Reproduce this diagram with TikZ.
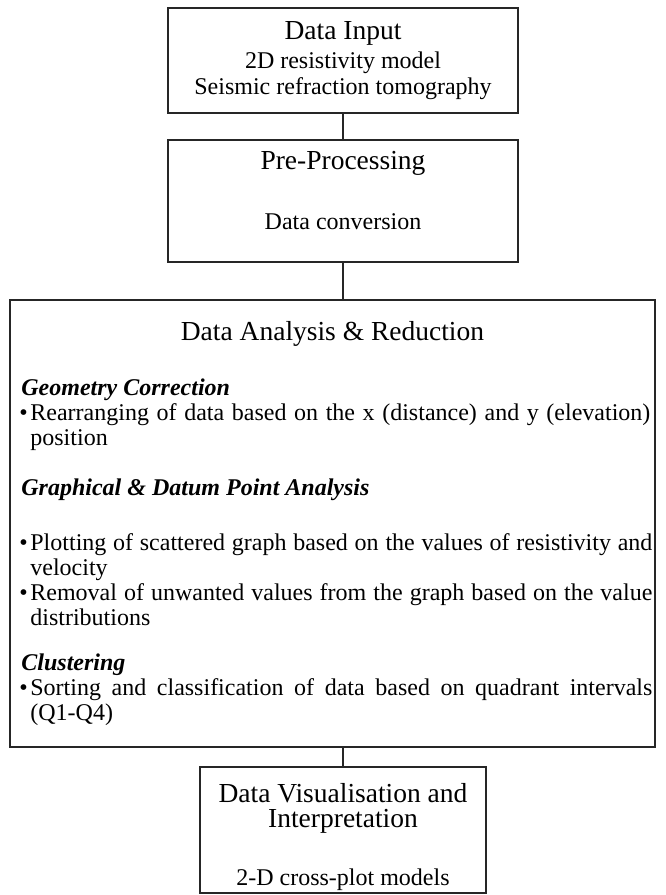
\documentclass[tikz,border=0pt]{standalone}
\usepackage{fontspec}
\setmainfont{Liberation Serif}
\newcommand{\titlefont}{\fontsize{13.75}{16}\selectfont}
\newcommand{\bodyfont}{\fontsize{12}{14}\selectfont}
\begin{document}
\begin{tikzpicture}[x=0.5pt,y=-0.5pt,
  box/.style={draw=black!85, line width=0.6pt, inner sep=0pt},
  title/.style={inner sep=0pt, font=\titlefont},
  body/.style={inner sep=0pt, font=\bodyfont},
  head/.style={anchor=west, inner sep=0pt, text height=8.5pt, text depth=3pt, font=\bodyfont\bfseries\itshape},
  item/.style={anchor=west, inner sep=0pt, text height=8.5pt, text depth=3pt, font=\bodyfont},
  link/.style={draw=black!85, line width=0.6pt}]
\useasboundingbox (0,0) rectangle (665,895);
% boxes
\node[box, minimum width=175pt, minimum height=52.5pt] (Input) at (343,60.5) {};
\node[box, minimum width=175pt, minimum height=61pt] (PreProc) at (343,201) {};
\node[box, minimum width=322.5pt, minimum height=223.5pt] (Analysis) at (332.5,523.5) {};
\node[box, minimum width=143pt, minimum height=63pt] (Visual) at (343,830) {};
% connectors
\draw[link] (Input) -- (PreProc);
\draw[link] (PreProc.south) -- (PreProc.south |- Analysis.north);
\draw[link] (Visual.north |- Analysis.south) -- (Visual);
% data input
\node[title] (InputT) at (343,33) {Data Input};
\node[body] (InputA) at (343,63) {2D resistivity model};
\node[body] (InputB) at (343,89) {Seismic refraction tomography};
% pre-processing
\node[title] (PreProcT) at (343,163) {Pre-Processing};
\node[body] (PreProcA) at (343,222) {Data conversion};
% analysis
\node[title] (AnalysisT) at (332.5,334) {Data Analysis \& Reduction};
\node[head] (GeoH) at (21,390) {Geometry Correction};
\node[item] (GeoB) at (19,415) {\textbullet};
\node[item] (GeoA) at (30,415) {\makebox[310pt][s]{Rearranging of data based on the x (distance) and y (elevation)}};
\node[item] (GeoC) at (30,440) {position};
\node[head] (GraphH) at (21,490) {Graphical \& Datum Point Analysis};
\node[item] (GraphB1) at (19,545) {\textbullet};
\node[item] (GraphA) at (30,545) {\makebox[311pt][s]{Plotting of scattered graph based on the values of resistivity and}};
\node[item] (GraphC) at (30,570) {velocity};
\node[item] (GraphB2) at (19,595) {\textbullet};
\node[item] (GraphD) at (30,595) {\makebox[311pt][s]{Removal of unwanted values from the graph based on the value}};
\node[item] (GraphE) at (30,620) {distributions};
\node[head] (ClustH) at (21,665) {Clustering};
\node[item] (ClustB) at (19,690) {\textbullet};
\node[item] (ClustA) at (30,690) {\makebox[311pt][s]{Sorting and classification of data based on quadrant intervals}};
\node[item] (ClustC) at (30,715) {(Q1-Q4)};
% visualisation
\node[title] (VisualT) at (343,793) {Data Visualisation and};
\node[title] (VisualU) at (343,821) {Interpretation};
\node[body] (VisualA) at (343,880) {2-D cross-plot models};
\end{tikzpicture}
\end{document}
